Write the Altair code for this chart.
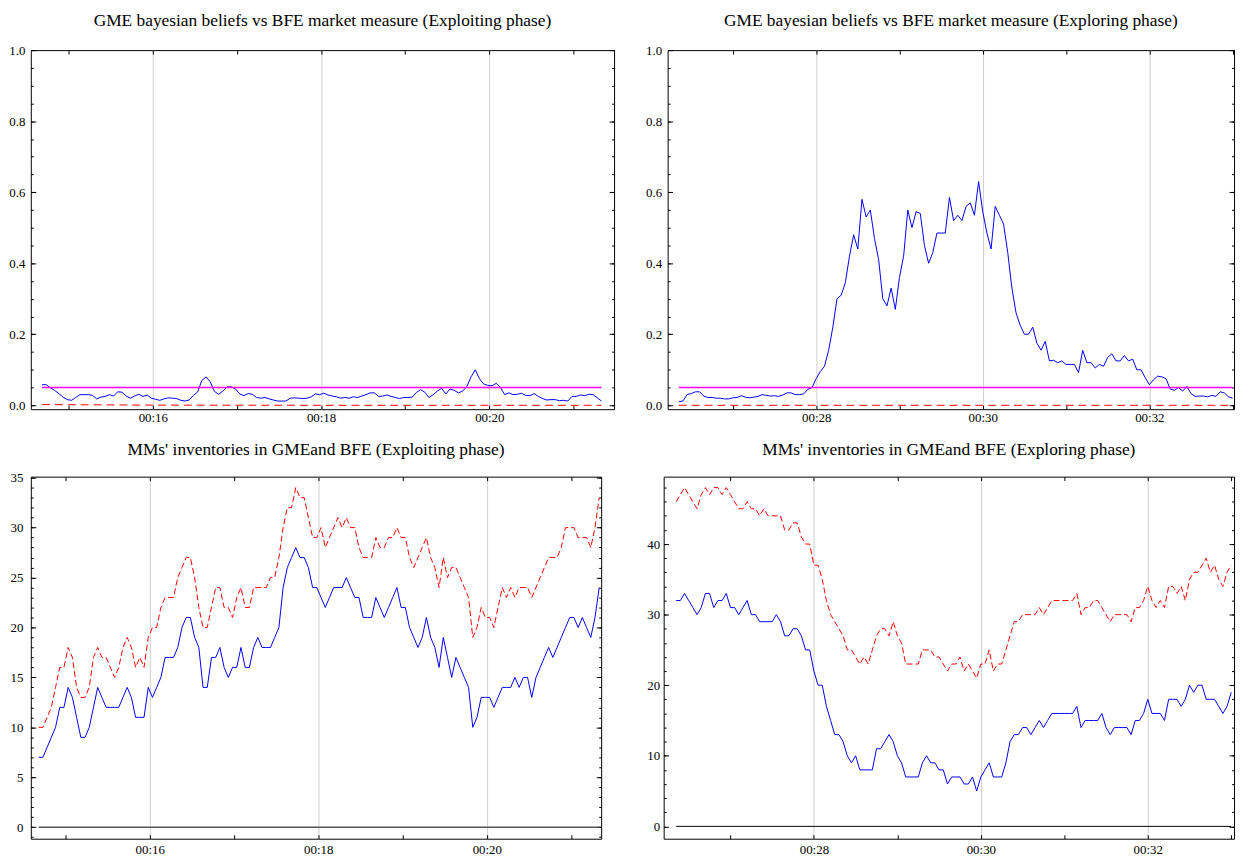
import altair as alt
import pandas as pd

SERIF = "Liberation Serif"

# ---------------- data ----------------
# sample times, seconds after 00:00 (one reading every 3 s)
t_exploit = list(range(881, 1281, 3))
t_explore = list(range(1581, 1981, 3))

# GME bayesian beliefs (blue), exploiting phase
belief_exploit = [
    0.058, 0.058, 0.049, 0.042, 0.033, 0.023, 0.016, 0.014, 0.022, 0.030,
    0.030, 0.030, 0.028, 0.018, 0.023, 0.025, 0.030, 0.026, 0.038, 0.037,
    0.026, 0.020, 0.026, 0.031, 0.025, 0.029, 0.020, 0.017, 0.014, 0.018,
    0.021, 0.020, 0.019, 0.014, 0.012, 0.015, 0.028, 0.038, 0.070, 0.080,
    0.066, 0.039, 0.031, 0.040, 0.052, 0.052, 0.046, 0.032, 0.027, 0.033,
    0.031, 0.022, 0.020, 0.022, 0.018, 0.015, 0.012, 0.012, 0.012, 0.020,
    0.021, 0.020, 0.019, 0.020, 0.024, 0.032, 0.030, 0.034, 0.029, 0.026,
    0.024, 0.020, 0.022, 0.020, 0.024, 0.022, 0.026, 0.030, 0.035, 0.035,
    0.025, 0.026, 0.029, 0.025, 0.022, 0.019, 0.022, 0.022, 0.023, 0.036,
    0.044, 0.037, 0.022, 0.030, 0.040, 0.048, 0.032, 0.046, 0.042, 0.035,
    0.040, 0.053, 0.080, 0.100, 0.075, 0.060, 0.056, 0.055, 0.062, 0.050,
    0.030, 0.035, 0.030, 0.031, 0.034, 0.028, 0.027, 0.033, 0.025, 0.019,
    0.015, 0.016, 0.016, 0.013, 0.014, 0.012, 0.025, 0.025, 0.029, 0.027,
    0.031, 0.030, 0.021, 0.012,
]

# GME bayesian beliefs (blue), exploring phase
belief_explore = [
    0.010, 0.012, 0.030, 0.033, 0.038, 0.038, 0.026, 0.022, 0.022, 0.020,
    0.020, 0.018, 0.018, 0.021, 0.022, 0.027, 0.023, 0.021, 0.023, 0.025,
    0.030, 0.028, 0.026, 0.027, 0.025, 0.029, 0.035, 0.035, 0.030, 0.030,
    0.032, 0.045, 0.050, 0.075, 0.095, 0.110, 0.155, 0.220, 0.300, 0.310,
    0.345, 0.420, 0.480, 0.440, 0.580, 0.530, 0.550, 0.470, 0.410, 0.300,
    0.280, 0.330, 0.270, 0.360, 0.420, 0.550, 0.500, 0.545, 0.540, 0.450,
    0.400, 0.430, 0.485, 0.485, 0.485, 0.585, 0.520, 0.535, 0.520, 0.560,
    0.570, 0.535, 0.630, 0.545, 0.485, 0.440, 0.560, 0.535, 0.510, 0.430,
    0.330, 0.260, 0.225, 0.200, 0.200, 0.220, 0.175, 0.155, 0.180, 0.125,
    0.127, 0.120, 0.125, 0.115, 0.115, 0.115, 0.092, 0.155, 0.120, 0.120,
    0.105, 0.115, 0.110, 0.135, 0.145, 0.125, 0.125, 0.140, 0.125, 0.130,
    0.100, 0.100, 0.078, 0.058, 0.072, 0.082, 0.080, 0.075, 0.046, 0.042,
    0.050, 0.040, 0.053, 0.033, 0.025, 0.026, 0.026, 0.024, 0.028, 0.025,
    0.038, 0.035, 0.024, 0.020,
]

# BFE market measure (red dashed), sparse readings
bfe_measure_exploit_t = [881, 960, 1080, 1280]
bfe_measure_exploit = [0.002, 0.0005, 0.0, 0.0]
bfe_measure_explore_t = [1581, 1980]
bfe_measure_explore = [0.0, 0.0]

threshold = 0.05

# MMs' inventories, exploiting phase
gme_inv_exploit = [
    7, 7, 8, 9, 10, 12, 12, 14, 13, 11,
    9, 9, 10, 12, 14, 13, 12, 12, 12, 12,
    13, 14, 13, 11, 11, 11, 14, 13, 14, 15,
    17, 17, 17, 18, 20, 21, 21, 19, 18, 14,
    14, 17, 17, 18, 16, 15, 16, 16, 18, 16,
    16, 18, 19, 18, 18, 18, 19, 20, 24, 26,
    27, 28, 27, 27, 26, 24, 24, 23, 22, 23,
    24, 24, 24, 25, 24, 23, 23, 21, 21, 21,
    23, 22, 21, 22, 23, 24, 22, 22, 20, 19,
    18, 19, 21, 19, 18, 16, 19, 17, 15, 17,
    16, 15, 14, 10, 11, 13, 13, 13, 12, 13,
    14, 14, 14, 15, 14, 15, 15, 13, 15, 16,
    17, 18, 17, 18, 19, 20, 21, 21, 20, 21,
    20, 19, 21, 24,
]
bfe_inv_exploit = [
    10, 10, 11, 12, 14, 16, 16, 18, 17, 14,
    13, 13, 14, 17, 18, 17, 17, 16, 15, 16,
    18, 19, 18, 16, 17, 16, 19, 20, 20, 22,
    23, 23, 23, 25, 26, 27, 27, 25, 22, 20,
    20, 22, 24, 24, 22, 22, 21, 23, 24, 22,
    22, 24, 24, 24, 24, 25, 25, 27, 30, 32,
    32, 34, 33, 33, 31, 29, 29, 30, 28, 29,
    30, 31, 30, 31, 30, 30, 28, 27, 27, 27,
    29, 28, 28, 29, 29, 30, 29, 29, 27, 26,
    27, 28, 29, 27, 26, 24, 27, 25, 26, 26,
    25, 24, 23, 19, 20, 22, 21, 21, 20, 22,
    24, 23, 24, 23, 24, 24, 24, 23, 24, 25,
    26, 27, 27, 27, 28, 30, 30, 30, 29, 29,
    29, 28, 30, 33,
]

# MMs' inventories, exploring phase
gme_inv_explore = [
    32, 32, 33, 32, 31, 30, 31, 33, 33, 31,
    32, 32, 33, 31, 31, 30, 31, 32, 30, 30,
    29, 29, 29, 29, 30, 29, 27, 27, 28, 28,
    27, 25, 25, 22, 20, 20, 17, 15, 13, 13,
    12, 10, 9, 10, 8, 8, 8, 8, 11, 11,
    12, 13, 12, 10, 9, 7, 7, 7, 7, 9,
    10, 9, 9, 8, 8, 6, 7, 7, 7, 6,
    6, 7, 5, 7, 8, 9, 7, 7, 7, 9,
    12, 13, 13, 14, 14, 13, 14, 15, 14, 15,
    16, 16, 16, 16, 16, 16, 17, 14, 15, 15,
    15, 15, 16, 14, 13, 14, 14, 14, 14, 13,
    15, 15, 16, 18, 16, 16, 16, 15, 18, 18,
    18, 17, 18, 20, 19, 20, 20, 18, 18, 18,
    17, 16, 17, 19,
]
bfe_inv_explore = [
    46, 47, 48, 47, 46, 45, 47, 48, 47, 48,
    48, 47, 48, 47, 46, 45, 45, 46, 45, 45,
    44, 45, 44, 44, 44, 44, 42, 42, 43, 43,
    41, 40, 40, 37, 37, 35, 32, 30, 29, 28,
    27, 25, 25, 24, 23, 24, 23, 25, 27, 28,
    28, 27, 29, 27, 26, 23, 23, 23, 23, 25,
    25, 25, 24, 24, 23, 22, 23, 23, 24, 22,
    23, 22, 21, 23, 23, 25, 22, 23, 23, 25,
    27, 29, 29, 30, 30, 30, 30, 31, 30, 31,
    32, 32, 32, 32, 32, 32, 33, 30, 31, 31,
    32, 32, 31, 30, 29, 30, 30, 30, 30, 29,
    31, 31, 32, 34, 32, 31, 32, 31, 34, 34,
    33, 34, 32, 35, 36, 36, 37, 38, 36, 37,
    35, 34, 36, 37,
]

titles = [
    "GME bayesian beliefs vs BFE market measure (Exploiting phase)",
    "GME bayesian beliefs vs BFE market measure (Exploring phase)",
    "MMs' inventories in GMEand BFE (Exploiting phase)",
    "MMs' inventories in GMEand BFE (Exploring phase)",
]

minute_ticks_exploit = [900, 960, 1020, 1080, 1140, 1200, 1260]
minute_ticks_explore = [1620, 1680, 1740, 1800, 1860, 1920, 1980]
grid_exploit = [960, 1080, 1200]
grid_explore = [1680, 1800, 1920]

LABEL_EXPR = ("floor(datum.value / 60) % 2 == 0 ? '00:' + "
              "(floor(datum.value / 60) < 10 ? '0' : '') + floor(datum.value / 60) : ''")

AX = dict(labelFont=SERIF, labelFontSize=13, labelColor="black", tickColor="black",
          tickWidth=1, domain=False, title=None)


def panel(title, t, blue_vals, red_t, red_vals, ref_vals, ref_color, ref_width,
          xdom, ydom, xticks, xgrid, ymaj, ymin, yfmt, width, height, dash, title_offset,
          ypad, xpad):
    d_blue = pd.DataFrame({"t": t, "v": blue_vals})
    d_red = pd.DataFrame({"t": red_t, "v": red_vals})
    d_ref = pd.DataFrame({"t": [t[0], t[-1]], "v": ref_vals})
    xs = alt.Scale(domain=xdom, nice=False, zero=False)
    ys = alt.Scale(domain=ydom, nice=False, zero=False)

    ax_x_bottom = alt.Axis(orient="bottom", values=xticks, labelExpr=LABEL_EXPR,
                           tickSize=4, offset=-4, grid=False, labelPadding=xpad, **AX)
    ax_x_grid = alt.Axis(orient="bottom", values=xgrid, grid=True, gridColor="#cfcfcf",
                         gridWidth=1, ticks=False, labels=False, **AX)
    ax_x_top = alt.Axis(orient="top", values=xticks, labels=False, tickSize=4, offset=-4,
                        grid=False, **AX)
    ax_y_left = alt.Axis(orient="left", values=ymaj, format=yfmt, tickSize=5, offset=-5,
                         labelPadding=ypad, grid=False, **AX)
    ax_y_left_minor = alt.Axis(orient="left", values=ymin, labels=False, tickSize=2.5,
                               offset=-2.5, grid=False, **AX)
    ax_y_right = alt.Axis(orient="right", values=ymaj, labels=False, tickSize=5, offset=-5,
                          grid=False, **AX)
    ax_y_right_minor = alt.Axis(orient="right", values=ymin, labels=False, tickSize=2.5,
                                offset=-2.5, grid=False, **AX)

    l_inv = alt.Chart(d_ref).mark_line(strokeOpacity=0, strokeWidth=0, color="white").encode(
        x=alt.X("t:Q", scale=xs, axis=None),
        y=alt.Y("v:Q", scale=ys, axis=ax_y_right_minor),
    )
    l_red = alt.Chart(d_red).mark_line(color="#ff0000", strokeWidth=1, strokeDash=dash).encode(
        x=alt.X("t:Q", scale=xs, axis=ax_x_grid),
        y=alt.Y("v:Q", scale=ys, axis=ax_y_left_minor),
    )
    l_blue = alt.Chart(d_blue).mark_line(color="#0000ff", strokeWidth=1).encode(
        x=alt.X("t:Q", scale=xs, axis=ax_x_bottom),
        y=alt.Y("v:Q", scale=ys, axis=ax_y_left),
    )
    l_ref = alt.Chart(d_ref).mark_line(color=ref_color, strokeWidth=ref_width).encode(
        x=alt.X("t:Q", scale=xs, axis=ax_x_top),
        y=alt.Y("v:Q", scale=ys, axis=ax_y_right),
    )
    return alt.layer(l_blue, l_red, l_ref, l_inv).resolve_axis(
        x="independent", y="independent"
    ).properties(
        width=width, height=height,
        title=alt.TitleParams(text=title, font=SERIF, fontSize=17.5, fontWeight="normal",
                              color="black", offset=title_offset, anchor="middle"),
    )


beliefs_major = [0.0, 0.2, 0.4, 0.6, 0.8, 1.0]
beliefs_minor = [round(i * 0.05, 2) for i in range(21)]

tl = panel(titles[0], t_exploit, belief_exploit, bfe_measure_exploit_t, bfe_measure_exploit,
           [threshold, threshold], "#ff00ff", 1.5, [873, 1289], [-0.011, 1.0],
           minute_ticks_exploit, grid_exploit, beliefs_major, beliefs_minor, ".1f",
           588, 362, [8, 5], 15, 6, 2)
tr = panel(titles[1], t_explore, belief_explore, bfe_measure_explore_t, bfe_measure_explore,
           [threshold, threshold], "#ff00ff", 1.5, [1573, 1981], [-0.011, 1.0],
           minute_ticks_explore, grid_explore, beliefs_major, beliefs_minor, ".1f",
           571, 362, [8, 5], 15, 6, 2)
bl = panel(titles[2], t_exploit, gme_inv_exploit, t_exploit, bfe_inv_exploit,
           [0, 0], "#555555", 1.6, [875.4, 1281.4], [-1.15, 35.1],
           minute_ticks_exploit, grid_exploit, [0, 5, 10, 15, 20, 25, 30, 35],
           list(range(-1, 36)), "d", 575, 365, [6, 3], 13, 8, 5)
br = panel(titles[3], t_explore, gme_inv_explore, t_explore, bfe_inv_explore,
           [0, 0], "#000000", 1.0, [1572, 1982], [-1.75, 49.55],
           minute_ticks_explore, grid_explore, [0, 10, 20, 30, 40],
           list(range(0, 50, 2)), "d", 575, 365, [6, 3], 18, 4, 5)

top = alt.hconcat(tl, tr, spacing=30)
bottom = alt.hconcat(bl, br, spacing=43)

chart = alt.vconcat(top, bottom, spacing=15).properties(
    padding={"left": 0, "top": 0, "right": 0, "bottom": 0}
).configure_view(
    stroke="black", strokeWidth=1
)

chart.save("out.html", embed_options={"renderer": "svg", "actions": False})
